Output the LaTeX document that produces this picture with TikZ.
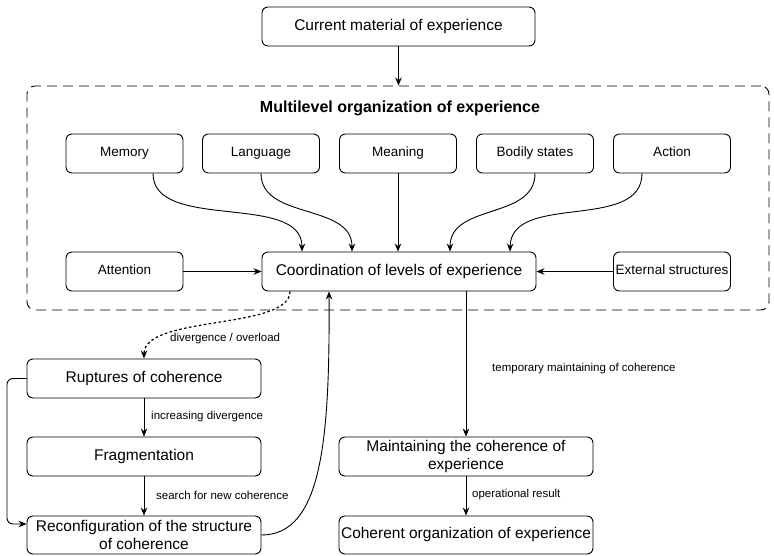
\documentclass[tikz,border=0pt]{standalone}
\usepackage{fontspec}
\setmainfont{Liberation Sans}
\usetikzlibrary{arrows.meta}
\begin{document}
\begin{tikzpicture}[x=1pt,y=-1pt,
  box/.style={draw, line width=0.9pt, rounded corners=6pt, inner sep=0pt, align=center,
    font=\fontsize{15.5}{18}\selectfont},
  one/.style={text height=11.2pt, text depth=3.3pt},
  sbox/.style={box, font=\fontsize{13.5}{16}\selectfont, minimum width=117pt, minimum height=39pt,
    text height=9.7pt, text depth=2.8pt},
  arr/.style={line width=0.9pt, -{Stealth[length=8pt,width=6.5pt]}},
  lbl/.style={anchor=west, inner sep=0pt, font=\fontsize{11.5}{13}\selectfont},
  container/.style={draw, line width=0.9pt, rounded corners=8pt, dash pattern=on 10pt off 6pt,
    minimum width=742pt, minimum height=224pt, inner sep=0pt}
]
\useasboundingbox (0,0) rectangle (774,555);

\node[box, one, minimum width=273pt, minimum height=39pt] (cur) at (398.5,26.5) {Current material of experience};
\node[container] (org) at (398,198) {};
\node[inner sep=0pt, font=\bfseries\fontsize{16}{19}\selectfont] (title) at (400,108) {Multilevel organization of experience};

\node[sbox] (mem) at (124.5,153.5) {Memory};
\node[sbox] (lang) at (261,153.5) {Language};
\node[sbox] (mean) at (398,153.5) {Meaning};
\node[sbox] (body) at (535,153.5) {Bodily states};
\node[sbox] (act) at (672,153.5) {Action};
\node[sbox] (att) at (124.5,271.5) {Attention};
\node[box, one, minimum width=274pt, minimum height=39pt] (coord) at (399,271.5) {Coordination of levels of experience};
\node[sbox] (ext) at (672,271.5) {External structures};

\node[box, one, minimum width=234pt, minimum height=39pt] (rup) at (144,378.5) {Ruptures of coherence};
\node[box, one, minimum width=234pt, minimum height=39pt] (frag) at (144,456.5) {Fragmentation};
\node[box, minimum width=234pt, minimum height=38pt] (rec) at (144,535) {Reconfiguration of the structure\\of coherence};
\node[box, minimum width=254pt, minimum height=39pt] (maint) at (466,456.5) {Maintaining the coherence of\\experience};
\node[box, one, minimum width=254pt, minimum height=38pt] (coh) at (466,535) {Coherent organization of experience};

% top
\draw[arr] (cur.south) -- (cur.south |- org.north);

% level inputs
\draw[arr] ([xshift=28.5pt]mem.south) .. controls (153,232) and (302,192) .. ([xshift=-97pt]coord.north);
\draw[arr] (lang.south) .. controls (261,220) and (352,203) .. ([xshift=-47pt]coord.north);
\draw[arr] (mean.south) -- (mean.south |- coord.north);
\draw[arr] (body.south) .. controls (535,220) and (450,203) .. ([xshift=51pt]coord.north);
\draw[arr] ([xshift=-30pt]act.south) .. controls (642,232) and (511,192) .. ([xshift=111pt]coord.north);
\draw[arr] (att.east) -- (coord.west);
\draw[arr] (ext.west) -- (coord.east);

% divergence branch
\draw[arr, line width=1.2pt, dash pattern=on 2.5pt off 2.5pt] ([xshift=-109pt]coord.south) .. controls (290,330) and (144,315) .. (rup.north);
\node[lbl] (l1) at (170,339) {divergence / overload};
\draw[arr] (rup.south) -- (frag.north);
\node[lbl] (l2) at (151,416.5) {increasing divergence};
\draw[arr] (frag.south) -- (rec.north);
\node[lbl] (l3) at (156,495) {search for new coherence};
\draw[arr, rounded corners=6pt] (rup.west) -- (7,378.5) -- (7,524) -- ([yshift=11pt]rec.west);
\draw[arr] (rec.east) .. controls (322,535) and (330,440) .. ([xshift=-70pt]coord.south);

% maintaining branch
\draw[arr] (maint.north |- coord.south) -- (maint.north);
\node[lbl] (l4) at (492,369) {temporary maintaining of coherence};
\draw[arr] (maint.south) -- (coh.north);
\node[lbl] (l5) at (472,494.5) {operational result};
\end{tikzpicture}
\end{document}
